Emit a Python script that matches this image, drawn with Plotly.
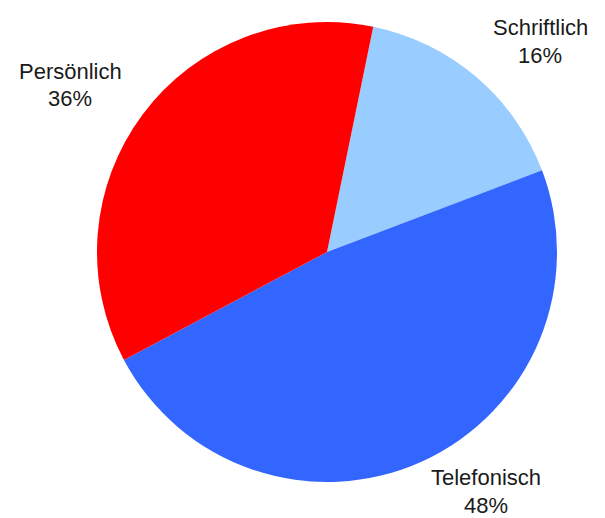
import plotly.graph_objects as go

# Pie data
labels = ["Schriftlich", "Telefonisch", "Persönlich"]
values = [16, 48, 36]
colors = ["#99CCFF", "#3366FF", "#FF0000"]

# where each label sits (pixel centre of the name line)
label_pos = [(540, 27), (486, 477), (70, 71)]

W, H = 605, 518
total = sum(values)

fig = go.Figure(go.Pie(
    labels=labels, values=values,
    marker=dict(colors=colors, line=dict(width=0)),
    sort=False, direction="clockwise", rotation=11.6,
    textinfo="none", hoverinfo="label+percent",
    domain=dict(x=[97 / W, 557 / W], y=[1 - 482 / H, 1 - 22 / H]),
))

for name, val, (px, py) in zip(labels, values, label_pos):
    pct = f"{round(100 * val / total)}%"
    for i, txt in enumerate([name, pct]):
        fig.add_annotation(
            x=px / W, y=1 - (py + 28 * i) / H, xref="paper", yref="paper",
            text=txt, showarrow=False, xanchor="center", yanchor="middle",
            font=dict(size=22, color="#1a1a1a"),
        )

fig.update_layout(
    width=W, height=H,
    margin=dict(l=0, r=0, t=0, b=0),
    showlegend=False,
    paper_bgcolor="#ffffff",
    plot_bgcolor="#ffffff",
    font=dict(family="Liberation Sans, Arial, sans-serif"),
)

# drop the default body margin so the figure fills the window exactly
fig.write_html(
    "out.html",
    config={"displayModeBar": False},
    post_script="document.body.style.margin='0';",
)
